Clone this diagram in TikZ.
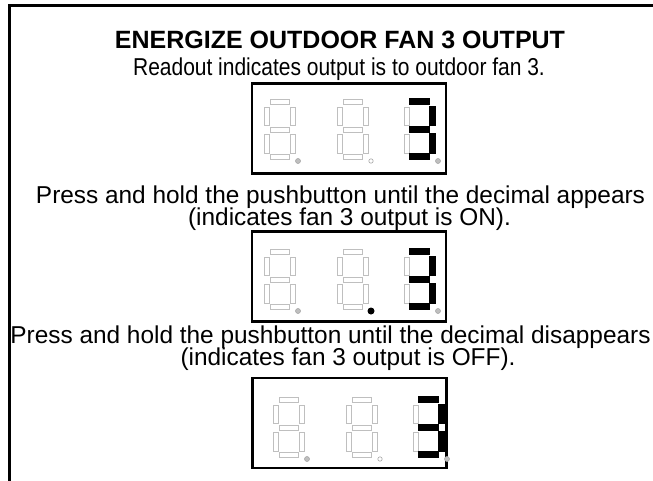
\documentclass[tikz,border=0pt]{standalone}
\usepackage{fontspec}
\setmainfont{Liberation Sans}

% seven segment digit: all segments dark (unlit)
\newcommand{\segdigit}[2]{%
  \begin{scope}[shift={(#1,#2)}]
    \foreach \xa/\ya/\xb/\yb in {6/0/25/5, 0/8/5/26, 26/8/31/26, 6/28/25/33, 0/35/5/54, 26/35/31/54, 6/55/25/60}
      \draw[seg] (\xa,\ya) rectangle (\xb,\yb);
  \end{scope}}
% lit segments of a "3"
\newcommand{\segthree}[2]{%
  \begin{scope}[shift={(#1,#2)}]
    \foreach \xa/\ya/\xb/\yb in {6/0/25/5, 26/8/31/26, 6/28/25/33, 26/35/31/54, 6/55/25/60}
      \draw[lit] (\xa,\ya) rectangle (\xb,\yb);
  \end{scope}}

\begin{document}
\begin{tikzpicture}[x=1pt, y=-1pt,
    frame/.style={draw, line width=3pt},
    panel/.style={draw, line width=2.7pt, minimum width=194pt, minimum height=90pt, inner sep=0pt},
    seg/.style={draw=black!25, fill=white, line width=0.8pt},
    lit/.style={draw=black, fill=black, line width=2pt},
    dotoff/.style={draw=black!35, fill=black!25, line width=0.6pt},
    dotring/.style={draw=black!35, fill=white, line width=0.6pt},
    label/.style={anchor=base, font=\fontsize{24.4}{28}\selectfont},
    title/.style={anchor=base, font=\bfseries\fontsize{25}{29}\selectfont}
  ]
  \useasboundingbox (0,0) rectangle (653,480);
  \clip (0,0) rectangle (653,480);
  \draw[frame] (9.5,5.5) rectangle (700,530);

  % texts
  \node[title] (head) at (340,48) {ENERGIZE OUTDOOR FAN 3 OUTPUT};
  \node[label] (t1) at (339,75) {\scalebox{0.86}[1]{Readout indicates output is to outdoor fan 3.}};
  \node[label] (t2) at (340.5,203) {Press and hold the pushbutton until the decimal appears};
  \node[label] (t3) at (349.5,225) {(indicates fan 3 output is ON).};
  \node[label] (t4) at (330.5,343) {Press and hold the pushbutton until the decimal disappears};
  \node[label] (t5) at (348,365) {(indicates fan 3 output is OFF).};

  % readout panels
  \node[panel] (p1) at (349,128.5) {};
  \node[panel] (p2) at (349,276.5) {};
  \node[panel] (p3) at (349.5,423) {};

  % panel 1: fan 3, decimal off
  \segdigit{264}{99} \segdigit{337}{99} \segdigit{404}{99} \segthree{404}{99}
  \draw[dotoff] (298,161) circle (2.5);
  \draw[dotring] (371,161) circle (2.2);
  \draw[dotoff] (438,161) circle (2.5);

  % panel 2: decimal on
  \segdigit{264}{249} \segdigit{337}{249} \segdigit{404}{249} \segthree{404}{249}
  \draw[dotoff] (298,311) circle (2.5);
  \fill (371,311) circle (3.5);
  \draw[dotoff] (438,311) circle (2.5);

  % panel 3: decimal off again
  \segdigit{273}{397} \segdigit{346}{397} \segdigit{413}{397} \segthree{413}{397}
  \draw[dotoff] (307,459) circle (2.5);
  \draw[dotring] (380,459) circle (2.2);
  \draw[dotoff] (447,459) circle (2.5);
\end{tikzpicture}
\end{document}
